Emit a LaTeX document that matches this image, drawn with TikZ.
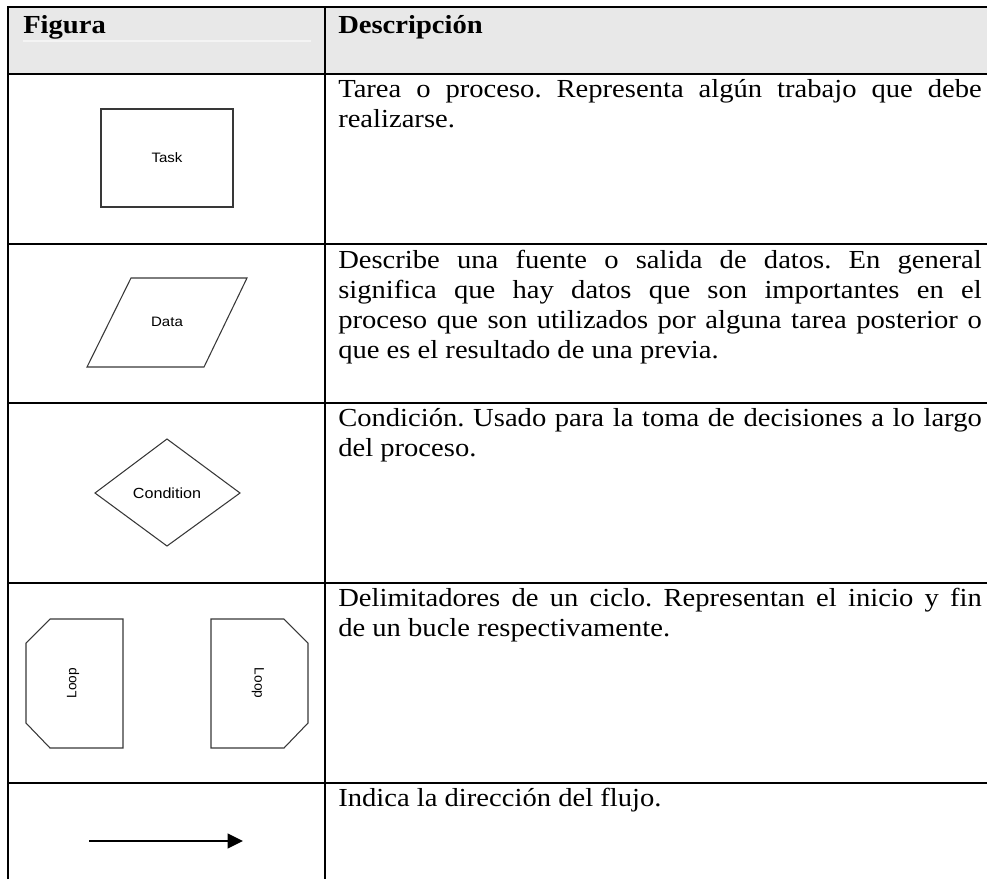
\documentclass[tikz,border=0pt]{standalone}
\usepackage{graphicx}
\usepackage{fontspec}
\setmainfont{Liberation Serif}
\newfontfamily\arialf{Liberation Sans}
\usetikzlibrary{arrows.meta}
\frenchspacing
\newdimen\pxu \pxu=0.75pt
\definecolor{hdrgray}{HTML}{E8E8E8}
\definecolor{hdrline}{HTML}{F4F4F4}
\definecolor{shapeline}{HTML}{383838}
\newcommand{\bodyfont}{\fontsize{19.5pt}{22.5pt}\selectfont}
\newcommand{\desctext}[1]{\scalebox{1.1}[1]{\parbox[t]{585\pxu}{\bodyfont\frenchspacing\tolerance=10000\hyphenpenalty=10000\rightskip=0pt #1}}}
\newcommand{\wide}[1]{\scalebox{1.1}[1]{#1}}
\tikzset{
  gridline/.style={line width=1.9pt, draw=black},
  shapeln/.style={draw=shapeline, line width=0.8pt, line join=miter},
  lbl/.style={inner sep=0pt, font=\arialf\fontsize{10.25pt}{12pt}\selectfont},
  lblbig/.style={inner sep=0pt, font=\arialf\fontsize{11pt}{13pt}\selectfont},
  desc/.style={anchor=base west, inner sep=0pt},
  hdr/.style={anchor=base west, inner sep=0pt, font=\bodyfont\bfseries},
}
\begin{document}
\begin{tikzpicture}[x=0.75pt,y=-0.75pt]
\useasboundingbox (0,0) rectangle (987,879);
% header background
\fill[hdrgray] (8,7) rectangle (987,74);
\draw[hdrline, line width=0.8pt] (23,41) -- (311,41);
% table grid
\draw[gridline] (8,879) -- (8,7) -- (987,7);
\draw[gridline] (325,7) -- (325,879);
\foreach \yy in {74,244,403,583,783}
  \draw[gridline] (8,\yy) -- (987,\yy);
% header texts
\node[hdr] (hfig) at (23,33) {\wide{Figura}};
\node[hdr] (hdesc) at (338,33) {\wide{Descripción}};
% descriptions
\node[desc] (d1) at (338,97) {\desctext{Tarea o proceso. Representa algún trabajo que debe\linebreak realizarse.}};
\node[desc] (d2) at (338,268) {\desctext{Describe una fuente o salida de datos. En general\linebreak significa que hay datos que son importantes en el\linebreak proceso que son utilizados por alguna tarea posterior o\linebreak que es el resultado de una previa.}};
\node[desc] (d3) at (338,426) {\desctext{Condición. Usado para la toma de decisiones a lo largo\linebreak del proceso.}};
\node[desc] (d4) at (338,606) {\desctext{Delimitadores de un ciclo. Representan el inicio y fin\linebreak de un bucle respectivamente.}};
\node[desc] (d5) at (338,806) {\desctext{Indica la dirección del flujo.}};
% task
\draw[shapeln] (101,109) rectangle (233,207);
\node[lbl] (task) at (167,158) {\wide{Task}};
% data
\draw[shapeln] (131,278) -- (247,278) -- (204,367) -- (87,367) -- cycle;
\node[lbl] (data) at (167,322) {\wide{Data}};
% condition
\draw[shapeln] (167,439) -- (240,493) -- (167,546) -- (95,493) -- cycle;
\node[lblbig] (cond) at (167,493) {\wide{Condition}};
% loops
\draw[shapeln] (50,619) -- (123,619) -- (123,748) -- (50,748) -- (26,723) -- (26,643) -- cycle;
\node[lbl, rotate=90] (loopa) at (73,683) {Loop};
\draw[shapeln] (211,619) -- (284,619) -- (308,643) -- (308,723) -- (284,748) -- (211,748) -- cycle;
\node[lbl, rotate=-90] (loopb) at (258,683) {Loop};
% flow arrow
\coordinate (a1) at (89,841);
\coordinate (a2) at (243,841);
\draw[line width=1.5pt, -{Triangle[length=11.5pt,width=11pt]}] (a1) -- (a2);
\end{tikzpicture}
\end{document}
